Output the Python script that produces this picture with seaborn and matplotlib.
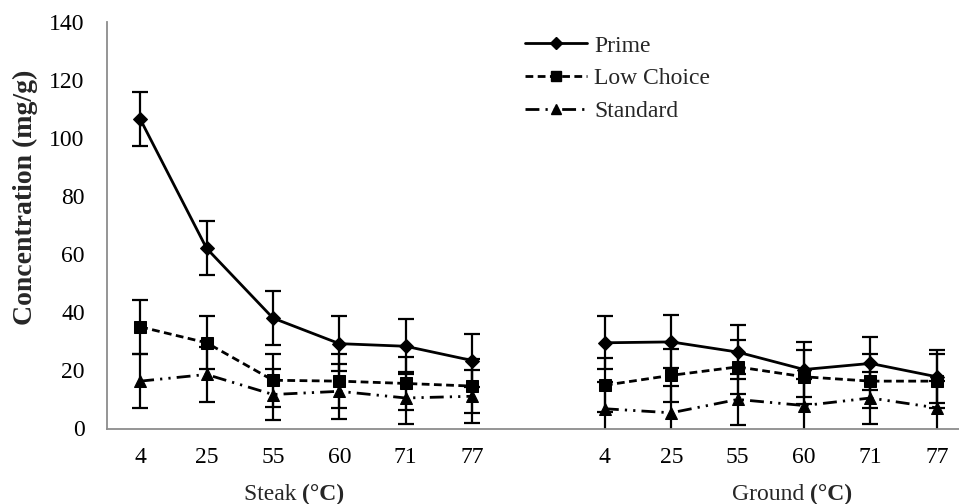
import numpy as np
import pandas as pd
import matplotlib
matplotlib.use("Agg")
import matplotlib.pyplot as plt
import seaborn as sns
from matplotlib.lines import Line2D

# Cooking temperatures (°C) for each product form
temps = ["4", "25", "55", "60", "71", "77"]
cuts = ["Steak", "Ground"]
grades = ["Prime", "Low Choice", "Standard"]

# Mean concentration (mg/g)
prime_steak = [106.5, 62.0, 38.0, 29.2, 28.3, 23.4]
prime_ground = [29.5, 29.8, 26.3, 20.3, 22.4, 17.8]
choice_steak = [35.0, 29.5, 16.6, 16.3, 15.5, 14.6]
choice_ground = [14.9, 18.3, 21.2, 17.8, 16.3, 16.3]
standard_steak = [16.3, 18.6, 11.7, 12.8, 10.5, 11.1]
standard_ground = [6.8, 5.4, 10.0, 7.9, 10.5, 7.1]

# Standard errors (mg/g)
prime_steak_err = [9.3, 9.3, 9.4, 9.4, 9.4, 9.2]
prime_ground_err = [9.1, 9.1, 9.2, 9.4, 9.1, 9.1]
choice_steak_err = [9.3, 9.1, 9.2, 9.2, 9.2, 9.2]
choice_ground_err = [9.2, 9.2, 9.2, 9.2, 9.2, 9.2]
standard_steak_err = [9.2, 9.5, 8.8, 9.4, 9.1, 9.1]
standard_ground_err = [9.1, 9.1, 8.9, 9.1, 9.1, 9.1]

values = {
    ("Prime", "Steak"): (prime_steak, prime_steak_err),
    ("Prime", "Ground"): (prime_ground, prime_ground_err),
    ("Low Choice", "Steak"): (choice_steak, choice_steak_err),
    ("Low Choice", "Ground"): (choice_ground, choice_ground_err),
    ("Standard", "Steak"): (standard_steak, standard_steak_err),
    ("Standard", "Ground"): (standard_ground, standard_ground_err),
}

# Category slots: steak 0-5, an empty slot, ground 7-12
slot_start = {"Steak": 0, "Ground": 7}

rows = []
for (grade, cut), (vals, errs) in values.items():
    for i, (v, e) in enumerate(zip(vals, errs)):
        rows.append({"pos": slot_start[cut] + i, "value": v, "err": e,
                     "grade": grade, "cut": cut, "temp": temps[i]})
df = pd.DataFrame(rows)

sns.set_theme(style="white")
plt.rcParams["font.family"] = ["Liberation Serif", "DejaVu Sans"]

FS = 17
LW = 2.0
markers = {"Prime": "D", "Low Choice": "s", "Standard": "^"}
msizes = {"Prime": 7.5, "Low Choice": 8.5, "Standard": 9.0}
dashes = {"Prime": "", "Low Choice": (2.8, 1.6),
          "Standard": (5, 2.2, 0.8, 2.2, 0.8, 2.2)}
linestyles = {"Prime": "-", "Low Choice": (0, (2.8, 1.6)),
              "Standard": (0, (5, 2.2, 0.8, 2.2, 0.8, 2.2))}

fig = plt.figure(figsize=(9.59, 5.04), dpi=100)
ax = fig.add_axes([107 / 959, 75.5 / 504, 863 / 959, 406.8 / 504])

# Error bars
for (grade, cut), grp in df.groupby(["grade", "cut"]):
    ax.errorbar(grp["pos"], grp["value"], yerr=grp["err"], fmt="none",
                ecolor="black", elinewidth=1.6, capsize=5.5, capthick=1.6,
                zorder=2)

# Lines and markers, one line per grade and product form
for grade in grades:
    sub = df[df["grade"] == grade]
    sns.lineplot(data=sub, x="pos", y="value", units="cut", estimator=None,
                 color="black", linewidth=LW, marker=markers[grade],
                 markersize=msizes[grade], markeredgecolor="black",
                 markerfacecolor="black", dashes=dashes[grade] or (None, None),
                 legend=False, ax=ax, zorder=3, sort=True)
    if dashes[grade] == "":
        for ln in ax.lines[-2:]:
            ln.set_linestyle("-")

ax.set_xlim(-0.5, 12.5)
ax.set_ylim(0, 140)
ax.set_yticks(np.arange(0, 141, 20))
xpos = list(range(0, 6)) + list(range(7, 13))
ax.set_xticks(xpos)
ax.set_xticklabels(temps + temps)
ax.tick_params(axis="both", length=0, labelsize=FS, colors="black")
ax.tick_params(axis="y", pad=16)
ax.tick_params(axis="x", pad=13)
ax.set_xlabel("")
ax.set_ylabel("Concentration (mg/g)", fontsize=20, fontweight="bold")
ax.yaxis.label.set(va="center", rotation_mode="anchor")
ax.yaxis.set_label_coords(-(107 - 25) / 863, (428.5 - 197) / 406.8)

for side in ["top", "right"]:
    ax.spines[side].set_visible(False)
for side in ["left", "bottom"]:
    ax.spines[side].set_color("#8c8c8c")
    ax.spines[side].set_linewidth(1.3)
ax.grid(False)

# Group labels under the categories, with the unit in bold
fig.canvas.draw()
renderer = fig.canvas.get_renderer()
trans = ax.get_xaxis_transform()
for name, center in [("Steak", 2.32), ("Ground", 9.82)]:
    t1 = ax.text(center, -0.1758, name + " ", transform=trans, fontsize=FS,
                 ha="left", va="baseline", clip_on=False)
    t2 = ax.annotate("(°C)", xy=(1, 0), xycoords=t1, fontsize=FS,
                     fontweight="bold", ha="left", va="bottom",
                     annotation_clip=False)
    fig.canvas.draw()
    w1 = t1.get_window_extent(renderer).width
    w2 = t2.get_window_extent(renderer).width
    px0 = ax.transData.transform((center, 0))[0] - (w1 + w2) / 2
    x0 = ax.transData.inverted().transform((px0, 0))[0]
    t1.set_x(x0)

handles = [Line2D([], [], color="black", linewidth=LW, linestyle=linestyles[g],
                  marker=markers[g], markersize=msizes[g] * 0.85,
                  markerfacecolor="black", markeredgecolor="black")
           for g in grades]
fig.legend(handles, grades, loc="upper left",
           bbox_to_anchor=(525 / 959, (504 - 35) / 504), frameon=False,
           fontsize=FS, handlelength=2.63, handletextpad=0.3,
           labelspacing=0.48, borderpad=0, borderaxespad=0, numpoints=1)

fig.savefig("out.png", dpi=100)
